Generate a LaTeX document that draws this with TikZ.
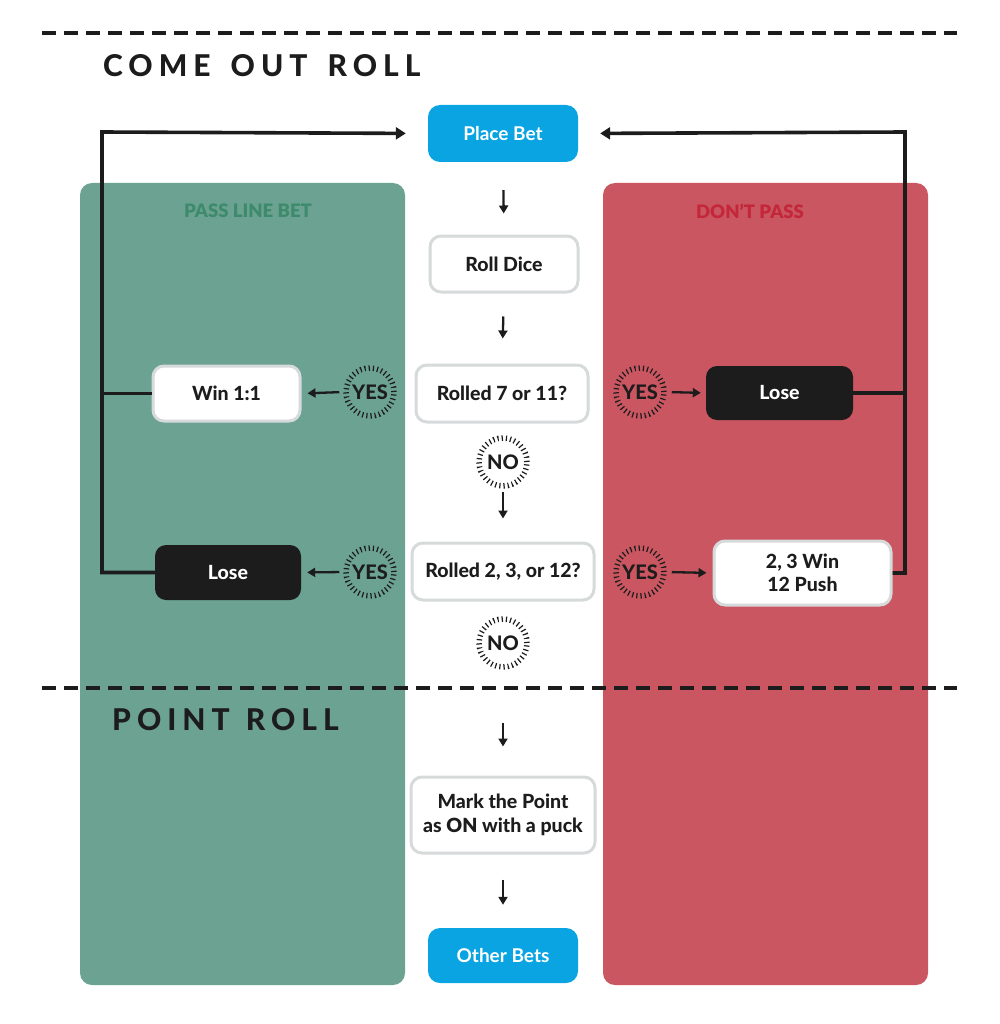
\documentclass[tikz,border=0pt]{standalone}
\usepackage{fontspec}
\setmainfont{Lato}
\newfontfamily\heavyfont{Lato Heavy}
\newfontfamily\blackfont{Lato Black}
\usetikzlibrary{arrows.meta}
\definecolor{panelgreen}{RGB}{108,162,146}
\definecolor{panelred}{RGB}{201,86,97}
\definecolor{titlegreen}{RGB}{62,138,108}
\definecolor{titlered}{RGB}{196,38,58}
\definecolor{betblue}{RGB}{10,164,226}
\definecolor{boxgray}{RGB}{214,218,218}
\definecolor{ink}{RGB}{28,28,28}
\tikzset{
  boxfont/.style={font=\fontsize{19.5}{23.5}\selectfont\heavyfont},
  wbox/.style={draw=boxgray, line width=3pt, fill=white, rounded corners=11pt, inner sep=0pt, boxfont, text=ink, align=center},
  bluebox/.style={fill=betblue, rounded corners=12pt, inner sep=0pt, font=\fontsize{19}{23}\selectfont\bfseries, text=white, align=center},
  darkbox/.style={fill=ink, rounded corners=11pt, inner sep=0pt, boxfont, text=white, align=center},
  ring/.style={circle, draw=ink, line width=5.5pt, dash pattern=on 1.2pt off 3pt, minimum size=48pt, inner sep=0pt, font=\fontsize{20}{22}\selectfont\heavyfont, text=ink},
  link/.style={draw=ink, line width=3.6pt},
  bigarrow/.style={link, -{Triangle[length=10pt,width=12pt]}},
  smallarrow/.style={draw=ink, line width=2.3pt, -{Triangle[length=8pt,width=9pt]}},
  heading/.style={anchor=west, inner sep=0pt, font=\fontsize{30}{34}\selectfont\heavyfont\addfontfeature{LetterSpace=20}, text=ink},
  paneltitle/.style={inner sep=0pt, font=\fontsize{18.5}{20}\selectfont\blackfont}
}
\begin{document}
\begin{tikzpicture}[x=1pt,y=-1pt]
\useasboundingbox (0,0) rectangle (999,1024);
% panels
\fill[panelgreen, rounded corners=12pt] (80,183) rectangle (405,985);
\fill[panelred, rounded corners=12pt] (603,183) rectangle (928,985);
\node[paneltitle, text=titlegreen] (passtitle) at (248,211) {PASS LINE BET};
\node[paneltitle, text=titlered] (donttitle) at (750,211) {DON’T PASS};
% dashed separators and headings
\draw[ink, line width=3.5pt, dash pattern=on 14pt off 8pt] (42,33) -- (957,33);
\draw[ink, line width=3.5pt, dash pattern=on 14pt off 8pt] (42,688) -- (957,688);
\node[heading] (come) at (103,66) {COME\hspace{7pt} OUT\hspace{7pt} ROLL};
\node[heading] (point) at (112,720) {POINT\hspace{3pt} ROLL};
% center column
\node[bluebox, minimum width=150pt, minimum height=57pt] (place) at (503,133.5) {Place Bet};
\node[wbox, minimum width=148pt, minimum height=56pt] (roll) at (504,264) {Roll Dice};
\node[wbox, minimum width=172pt, minimum height=57pt] (seven) at (502,393.5) {Rolled 7 or 11?};
\node[ring] (no1) at (503,462) {NO};
\node[wbox, minimum width=182pt, minimum height=57pt] (craps) at (503,571.5) {Rolled 2, 3, or 12?};
\node[ring] (no2) at (503,643) {NO};
\node[wbox, minimum width=184pt, minimum height=76pt] (mark) at (503,815) {Mark the Point\\as {\blackfont ON} with a puck};
\node[bluebox, minimum width=150pt, minimum height=55pt] (other) at (503,955.5) {Other Bets};
% left side
\node[wbox, minimum width=147pt, minimum height=55pt] (winL) at (226.5,393.5) {Win 1:1};
\node[darkbox, minimum width=146pt, minimum height=55pt] (loseL) at (228,572.5) {Lose};
\node[ring] (yesL1) at (370,392) {YES};
\node[ring] (yesL2) at (370,572) {YES};
% right side
\node[ring] (yesR1) at (640,392) {YES};
\node[ring] (yesR2) at (640,572) {YES};
\node[darkbox, minimum width=147pt, minimum height=54pt] (loseR) at (779.5,393) {Lose};
\node[wbox, minimum width=177pt, minimum height=64pt] (winR) at (802.5,573) {2, 3 Win\\12 Push};
% loop corners
\coordinate (LC) at (102,132);
\coordinate (RC) at (905,132);
% center arrows
\draw[smallarrow, shorten <=28pt, shorten >=21pt] (place.south) -- (roll.north);
\draw[smallarrow, shorten <=23pt, shorten >=25pt] (roll.south) -- (seven.north);
\draw[smallarrow, shorten <=3pt, shorten >=23pt] (no1.south) -- (craps.north);
\draw[smallarrow, shorten <=53pt, shorten >=29pt] (no2.south) -- (mark.north);
\draw[smallarrow, shorten <=25pt, shorten >=23pt] (mark.south) -- (other.north);
% yes arrows
\draw[smallarrow, shorten <=4pt, shorten >=6pt] (yesL1.west) -- (winL.east);
\draw[smallarrow, shorten <=4pt, shorten >=6pt] (yesL2.west) -- (loseL.east);
\draw[smallarrow, shorten <=5pt, shorten >=5pt] (yesR1.east) -- (loseR.west);
\draw[smallarrow, shorten <=5pt, shorten >=6pt] (yesR2.east) -- (winR.west);
% loops
\draw[bigarrow, shorten >=22pt] (loseL.west) -| (LC) -- (place.west);
\draw[link] (winL.west) -- (winL.west -| LC);
\draw[bigarrow, shorten >=22pt] (winR.east) -| (RC) -- (place.east);
\draw[link] (loseR.east) -- (loseR.east -| RC);
\end{tikzpicture}
\end{document}
